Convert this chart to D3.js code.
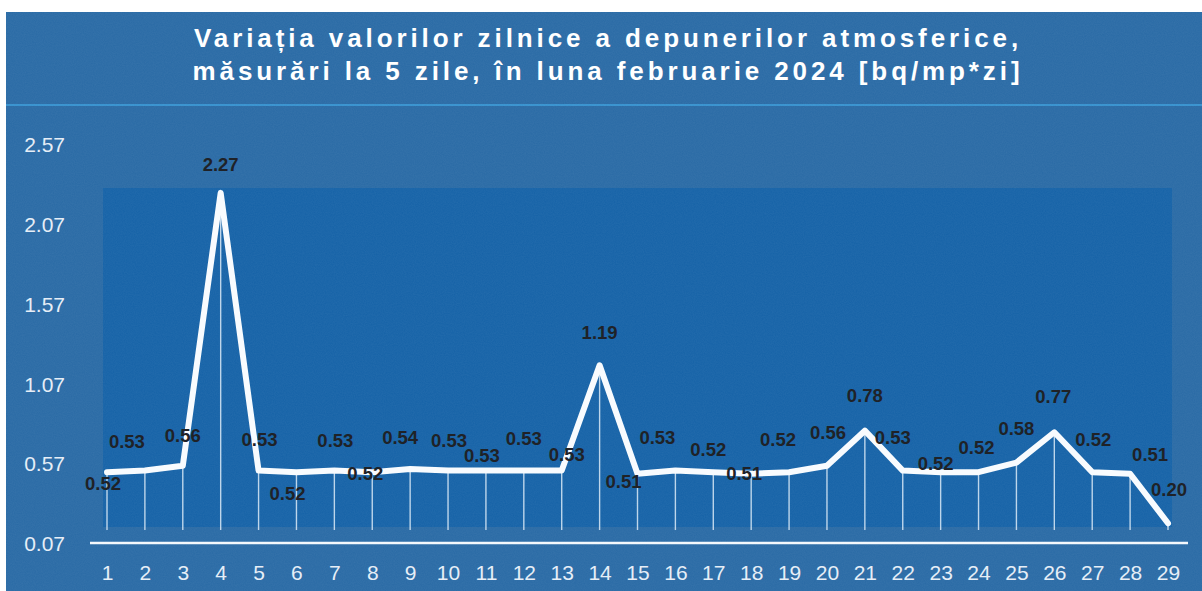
<!DOCTYPE html>
<html>
<head>
<meta charset="utf-8">
<script src="https://cdn.jsdelivr.net/npm/d3@7"></script>
<style>
  html, body { margin: 0; padding: 0; background: #fff; }
  svg { display: block; font-family: "Liberation Sans", Arial, sans-serif; }
</style>
</head>
<body>
<div id="chart"></div>
<script>
const days = d3.range(1, 30);
const values = [0.52, 0.53, 0.56, 2.27, 0.53, 0.52, 0.53, 0.52, 0.54, 0.53,
                0.53, 0.53, 0.53, 1.19, 0.51, 0.53, 0.52, 0.51, 0.52, 0.56,
                0.78, 0.53, 0.52, 0.52, 0.58, 0.77, 0.52, 0.51, 0.20];
const yTicks = [0.07, 0.57, 1.07, 1.57, 2.07, 2.57];
const titleLines = [
    'Variația valorilor zilnice a depunerilor atmosferice,',
    'măsurări la 5 zile, în luna februarie 2024 [bq/mp*zi]'
];
// where each value label sits relative to its point (hand placed in the original)
const labelOffsets = [[-4, 11], [-18, -29], [0, -30], [0, -29], [1, -31], [-9, 21],
    [1, -30], [-7, 1], [-10, -32], [1, -30], [-4, -15], [0, -32], [5, -16], [0, -33],
    [-14, 8], [-18, -33], [-5, -23], [-7, 0], [-11, -33], [1, -33], [0, -35],
    [-10, -33], [-5, -9], [-2, -25], [0, -34], [-1, -36], [1, -33], [20, -19], [1, -34]];

const width = 1202, height = 591;
const data = days.map((d, i) => ({day: d, value: values[i]}));

const svg = d3.select('#chart').append('svg')
    .attr('width', width)
    .attr('height', height);

// faint paper texture
const defs = svg.append('defs');
const noise = defs.append('filter').attr('id', 'grain')
    .attr('x', 0).attr('y', 0).attr('width', '100%').attr('height', '100%');
noise.append('feTurbulence').attr('type', 'fractalNoise')
    .attr('baseFrequency', 0.9).attr('numOctaves', 2).attr('seed', 3);
noise.append('feColorMatrix').attr('type', 'matrix')
    .attr('values', '0 0 0 0 1  0 0 0 0 1  0 0 0 0 1  0 0 0 0.06 0');

svg.append('rect')
    .attr('x', 6).attr('y', 12)
    .attr('width', width - 6).attr('height', height - 12)
    .attr('fill', '#296aa5');

svg.append('line')
    .attr('x1', 6).attr('x2', width)
    .attr('y1', 105).attr('y2', 105)
    .attr('stroke', '#3b9fdc').attr('stroke-width', 1.5);

const x = d3.scalePoint()
    .domain(days)
    .range([107, 1168]);

const y = d3.scaleLinear()
    .domain([0.07, 2.57])
    .range([544, 145]);

// darker plot panel
svg.append('rect')
    .attr('x', 103).attr('y', 188)
    .attr('width', 1069).attr('height', 339)
    .attr('fill', '#1562a7');

svg.append('rect')
    .attr('x', 6).attr('y', 12)
    .attr('width', width - 6).attr('height', height - 12)
    .attr('filter', 'url(#grain)');

// title
const title = svg.append('text')
    .attr('text-anchor', 'middle')
    .attr('fill', '#ffffff')
    .style('font-size', '26px')
    .style('font-weight', 'bold')
    .style('letter-spacing', '3.9px');
titleLines.forEach((t, i) => {
    title.append('tspan')
        .attr('x', 608)
        .attr('y', 47 + i * 33)
        .text(t);
});

// drop lines
svg.append('g').selectAll('line')
    .data(data)
    .join('line')
    .attr('x1', d => x(d.day)).attr('x2', d => x(d.day))
    .attr('y1', d => y(d.value)).attr('y2', 530)
    .attr('stroke', '#dbeaf7')
    .attr('stroke-opacity', 0.85)
    .attr('stroke-width', 1.4);

// baseline
svg.append('line')
    .attr('x1', 90).attr('x2', 1188)
    .attr('y1', 543).attr('y2', 543)
    .attr('stroke', '#f4f8fc').attr('stroke-width', 2.5);

const line = d3.line()
    .x(d => x(d.day))
    .y(d => y(d.value));

svg.append('path')
    .datum(data)
    .attr('d', line)
    .attr('fill', 'none')
    .attr('stroke', '#f8fbfe')
    .attr('stroke-width', 6)
    .attr('stroke-linejoin', 'round')
    .attr('stroke-linecap', 'round');

// axes
const yAxis = svg.append('g')
    .attr('transform', 'translate(65,0)')
    .call(d3.axisLeft(y).tickValues(yTicks).tickSize(0).tickPadding(0)
        .tickFormat(d3.format('.2f')));
yAxis.select('.domain').remove();
yAxis.selectAll('text')
    .attr('fill', '#e6eef7')
    .style('font-size', '21px')
    .style('font-family', '"Liberation Sans", Arial, sans-serif');

const xAxis = svg.append('g')
    .attr('transform', 'translate(0,565)')
    .call(d3.axisBottom(x).tickSize(0).tickPadding(0));
xAxis.select('.domain').remove();
xAxis.selectAll('text')
    .attr('fill', '#e6eef7')
    .style('font-size', '21px')
    .style('font-family', '"Liberation Sans", Arial, sans-serif');

// value labels
svg.append('g').selectAll('text')
    .data(data)
    .join('text')
    .attr('x', (d, i) => x(d.day) + labelOffsets[i][0])
    .attr('y', (d, i) => y(d.value) + labelOffsets[i][1])
    .attr('dy', '0.36em')
    .attr('text-anchor', 'middle')
    .attr('fill', '#1f2227')
    .style('font-size', '18.5px')
    .style('font-weight', 'bold')
    .text(d => d3.format('.2f')(d.value));
</script>
</body>
</html>
